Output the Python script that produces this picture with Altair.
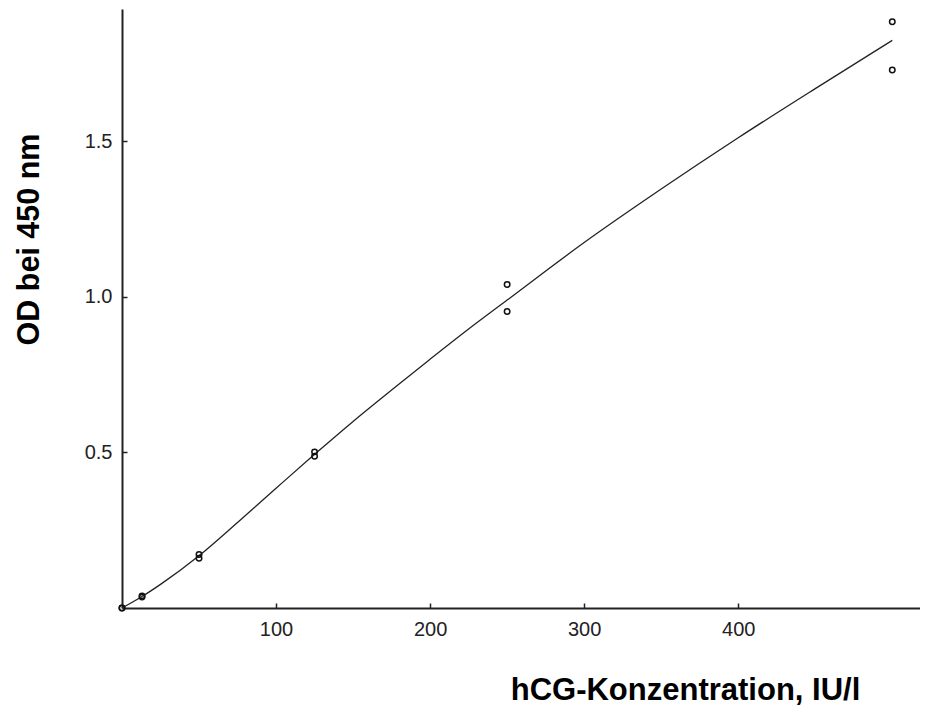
import altair as alt
import pandas as pd

# measured standards (hCG IU/l) and OD at 450 nm
conc = [0, 0, 13, 13, 50, 50, 125, 125, 250, 250, 500, 500]
od = [0, 0, 0.035, 0.039, 0.160, 0.172, 0.488, 0.502, 1.040, 0.953, 1.885, 1.730]

# fitted curve
curve_x = [0, 13, 25, 50, 75, 100, 125, 150, 175, 200, 225, 250, 300, 350, 400, 450, 500]
curve_y = [0, 0.037, 0.076, 0.168, 0.275, 0.385, 0.494, 0.600, 0.701, 0.800, 0.897, 0.990,
           1.175, 1.347, 1.512, 1.670, 1.825]

x_ticks = [100, 200, 300, 400]
y_ticks = [0.5, 1.0, 1.5]

pts = pd.DataFrame({"x": conc, "y": od})
fit = pd.DataFrame({"x": curve_x, "y": curve_y})

W, H = 798, 599
FONT = "Liberation Sans"

xs = alt.Scale(domain=[0, 518], nice=False, zero=True)
ys = alt.Scale(domain=[0, 1.926], nice=False, zero=True)

points = alt.Chart(pts).mark_point(
    shape="circle", filled=False, size=30, strokeWidth=1.5, color="#111", opacity=1
).encode(
    x=alt.X("x:Q", scale=xs, axis=alt.Axis(
        values=x_ticks, ticks=False, grid=False, domainColor="#222", domainWidth=2,
        labelFont=FONT, labelFontSize=20, labelColor="#222", labelPadding=11,
        title="hCG-Konzentration, IU/l", titleFont=FONT, titleFontSize=31,
        titleFontWeight="bold", titleColor="#000", titleX=563, titleY=91,
        titleAlign="center", titleBaseline="alphabetic", titleAnchor="start")),
    y=alt.Y("y:Q", scale=ys, axis=alt.Axis(
        values=y_ticks, format=".1f", ticks=False, grid=False, domainColor="#222",
        domainWidth=2, labelFont=FONT, labelFontSize=20, labelColor="#222",
        labelPadding=10,
        title="OD bei 450 nm", titleFont=FONT, titleFontSize=30.5,
        titleFontWeight="bold", titleColor="#000", titleX=-84, titleY=230,
        titleAngle=270, titleAlign="center", titleBaseline="alphabetic",
        titleAnchor="start")),
)

line = alt.Chart(fit).mark_line(
    color="#222", strokeWidth=1.3, interpolate="monotone"
).encode(
    x=alt.X("x:Q", scale=xs, axis=alt.Axis(
        orient="top", offset=-H, values=x_ticks, labels=False, domain=False,
        grid=False, title=None, tickSize=5, tickWidth=1.5, tickColor="#222")),
    y=alt.Y("y:Q", scale=ys, axis=alt.Axis(
        orient="right", offset=-W, values=y_ticks, labels=False, domain=False,
        grid=False, title=None, tickSize=5, tickWidth=1.5, tickColor="#222")),
)

chart = alt.layer(line, points).resolve_axis(x="independent", y="independent").properties(
    width=W, height=H,
    autosize=alt.AutoSizeParams(type="none"),
    padding={"left": 114, "top": 1, "right": 0, "bottom": 97},
    background="white",
).configure_view(stroke=None)

chart.save("out.html", embed_options={"renderer": "svg", "actions": False})
